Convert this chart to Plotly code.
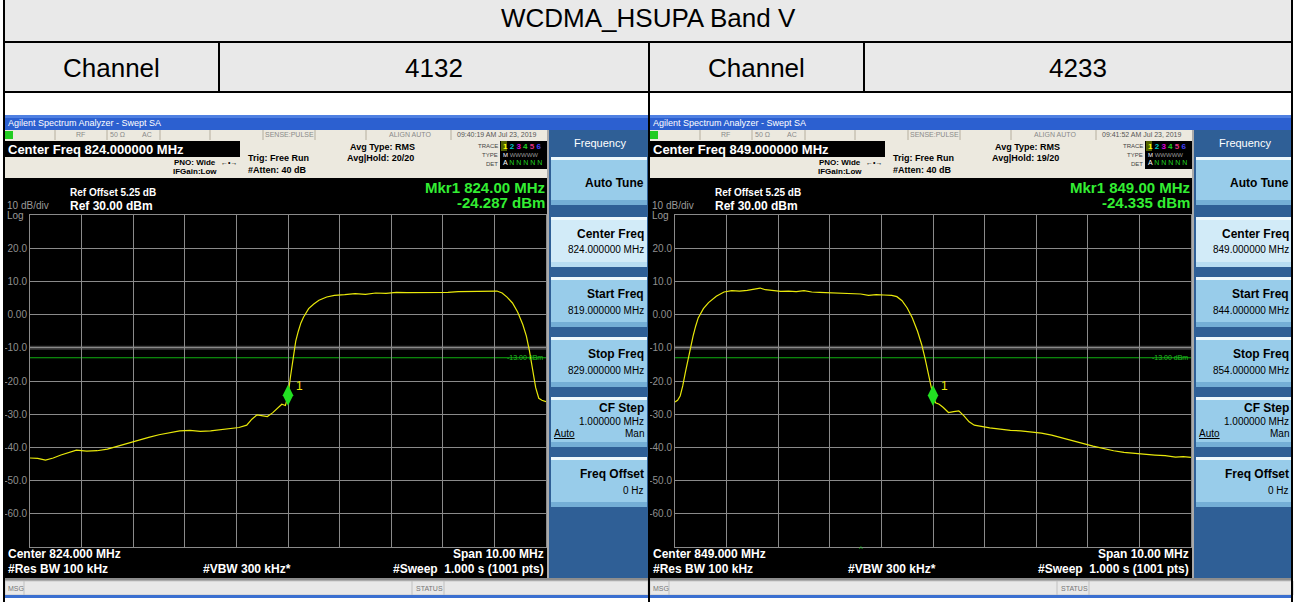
import plotly.graph_objects as go

W, H = 1297, 602
FONT = "Liberation Sans"

TITLE = "WCDMA_HSUPA Band V"
CHANNEL_LABEL = "Channel"
CHANNELS = ["4132", "4233"]
CENTER_MHZ = [824.0, 849.0]
SPAN_MHZ = 10.0
MKR_FREQ = [824.00, 849.00]
MKR_DBM = [-24.287, -24.335]
TIMESTAMPS = ["09:40:19 AM Jul 23, 2019", "09:41:52 AM Jul 23, 2019"]
AVG_HOLD = ["20/20", "19/20"]
LIMIT_DBM = -13.0
REF_LEVEL = 30.0
BOTTOM_LEVEL = -70.0
Y_TICKS = [20, 10, 0, -10, -20, -30, -40, -50, -60]
Y_TICK_LABELS = ["20.0", "10.0", "0.00", "-10.0", "-20.0", "-30.0", "-40.0", "-50.0", "-60.0"]

freq_L = [819.00, 819.15, 819.30, 819.45, 819.60, 819.75, 819.90, 820.10, 820.30, 820.50,
          820.70, 820.90, 821.10, 821.30, 821.50, 821.70, 821.90, 822.10, 822.30, 822.50,
          822.70, 822.90, 823.05, 823.20, 823.30, 823.40, 823.50, 823.60, 823.70, 823.80,
          823.88, 823.95, 824.00, 824.05, 824.10, 824.15, 824.20, 824.25, 824.30, 824.40,
          824.50, 824.60, 824.75, 824.90, 825.10, 825.30, 825.50, 825.70, 825.90, 826.10,
          826.30, 826.50, 826.70, 826.90, 827.10, 827.30, 827.50, 827.70, 827.90, 828.05,
          828.15, 828.25, 828.35, 828.45, 828.55, 828.62, 828.68, 828.74, 828.80, 828.86,
          828.92, 829.00]
dbm_L = [-43.2, -43.3, -43.8, -43.2, -42.3, -41.5, -40.8, -41.1, -41.0, -40.5,
         -39.6, -38.6, -37.8, -37.0, -36.2, -35.5, -35.0, -34.9, -35.2, -35.0,
         -34.6, -34.2, -34.0, -33.3, -31.5, -30.2, -30.4, -30.7, -29.6, -28.2,
         -27.0, -27.4, -24.3, -18.5, -12.5, -8.0, -5.0, -2.5, -0.8, 1.8,
         3.2, 4.3, 5.3, 5.8, 6.0, 6.3, 6.1, 6.5, 6.4, 6.7,
         6.6, 6.6, 6.7, 6.8, 6.7, 6.9, 7.0, 7.1, 7.2, 7.1,
         6.5, 5.2, 3.5, 0.8, -3.0, -6.5, -11.0, -17.0, -22.0, -25.2,
         -25.8, -26.2]

freq_R = [844.00, 844.05, 844.10, 844.15, 844.20, 844.25, 844.30, 844.35, 844.40, 844.45,
          844.55, 844.65, 844.80, 844.95, 845.10, 845.25, 845.40, 845.55, 845.65, 845.75,
          845.90, 846.05, 846.20, 846.35, 846.50, 846.65, 846.80, 847.00, 847.20, 847.40,
          847.60, 847.75, 847.90, 848.05, 848.20, 848.30, 848.40, 848.50, 848.60, 848.70,
          848.78, 848.85, 848.92, 849.00, 849.05, 849.12, 849.20, 849.30, 849.40, 849.50,
          849.60, 849.70, 849.80, 849.95, 850.10, 850.30, 850.50, 850.70, 850.90, 851.10,
          851.30, 851.50, 851.70, 851.90, 852.10, 852.30, 852.50, 852.70, 852.90, 853.10,
          853.30, 853.50, 853.70, 853.85, 854.00]
dbm_R = [-26.3, -25.8, -24.5, -21.5, -17.5, -13.5, -9.5, -6.5, -3.5, -1.0,
         1.8, 3.6, 5.5, 6.8, 7.2, 7.1, 7.3, 7.6, 8.0, 7.5,
         7.2, 7.0, 7.1, 6.9, 7.2, 6.8, 6.7, 6.6, 6.5, 6.4,
         6.2, 5.8, 6.0, 5.9, 5.8, 5.4, 4.2, 2.0, -1.0, -5.0,
         -9.0, -13.5, -19.0, -24.3, -26.6, -27.0, -28.0, -29.5, -29.2, -29.0,
         -30.5, -32.3, -33.3, -33.8, -34.1, -34.5, -34.9, -35.0, -35.3, -35.7,
         -36.3, -37.2, -38.0, -38.8, -39.6, -40.4, -41.0, -41.5, -41.8, -42.2,
         -42.3, -42.5, -42.9, -42.8, -43.0]

TRACES = [(freq_L, dbm_L), (freq_R, dbm_R)]

shapes = []
ann = []


def X(px):
    return px / W


def Y(py):
    return 1 - py / H


def rect(x0, y0, x1, y1, fill, line=None, lw=0, layer="below"):
    shapes.append(dict(type="rect", xref="paper", yref="paper",
                       x0=X(x0), x1=X(x1), y0=Y(y1), y1=Y(y0),
                       fillcolor=fill, line=dict(color=line or fill, width=lw), layer=layer))


def seg(x0, y0, x1, y1, color, lw=1, layer="above"):
    shapes.append(dict(type="line", xref="paper", yref="paper",
                       x0=X(x0), x1=X(x1), y0=Y(y0), y1=Y(y1),
                       line=dict(color=color, width=lw), layer=layer))


def txt(x, y, s, size, color="black", xa="left", bold=False, family=FONT, ya="middle"):
    ann.append(dict(xref="paper", yref="paper", x=X(x), y=Y(y),
                    text=("<b>%s</b>" % s if bold else s), showarrow=False,
                    xanchor=xa, yanchor=ya, borderpad=0,
                    font=dict(size=size, color=color, family=family)))


# ---------------- table ----------------
rect(4, 0, 1292, 42, "#E9E9E9")
rect(4, 42, 1292, 92, "#E9E9E9")
txt(648, 18, TITLE, 26, xa="center")
txt(111, 68, CHANNEL_LABEL, 26, xa="center")
txt(434, 68, CHANNELS[0], 26, xa="center")
txt(756, 68, CHANNEL_LABEL, 26, xa="center")
txt(1078, 68, CHANNELS[1], 26, xa="center")

GREEN = "#33EE33"
GRAY_T = "#9A9A9A"


def panel(i, X0):
    cf = CENTER_MHZ[i]
    R = X0 + 643
    # title bar
    rect(X0, 115, R, 130, "#2C60D0")
    rect(X0, 115, R, 118, "#4F80E2")
    txt(X0 + 2, 123, "Agilent Spectrum Analyzer - Swept SA", 9, "white")
    # status bar
    rect(X0, 130, X0 + 543, 140, "#ECE9DF")
    rect(X0, 131, X0 + 8, 139, "#22CC22")
    for sx in [50, 102, 155, 205, 258, 310, 361, 446]:
        seg(X0 + sx, 130, X0 + sx, 140, "#B5AE9E")
    txt(X0 + 75, 135, "RF", 7, "#8A8A8A", xa="center")
    txt(X0 + 112, 135, "50 Ω", 7, "#8A8A8A", xa="center")
    txt(X0 + 142, 135, "AC", 7, "#8A8A8A", xa="center")
    txt(X0 + 284, 135, "SENSE:PULSE", 7, "#8A8A8A", xa="center")
    txt(X0 + 405, 135, "ALIGN AUTO", 7, "#8A8A8A", xa="center")
    txt(X0 + 492, 135, TIMESTAMPS[i], 7, "#555555", xa="center")
    # info area
    rect(X0, 140, X0 + 543, 178, "#ECE9DF")
    rect(X0, 141, X0 + 235, 157, "#000000")
    txt(X0 + 2, 149, "Center Freq %.6f MHz" % cf, 13, "white", bold=True)
    txt(X0 + 212, 162, "PNO: Wide", 8, "black", xa="right", bold=True)
    txt(X0 + 224, 162, "←•→", 7, "black", xa="center")
    txt(X0 + 213, 171, "IFGain:Low", 8, "black", xa="right", bold=True)
    txt(X0 + 242, 158, "Trig: Free Run", 9, "black", bold=True)
    txt(X0 + 242, 170, "#Atten: 40 dB", 9, "black", bold=True)
    txt(X0 + 344, 147, "Avg Type: RMS", 9, "black", bold=True)
    txt(X0 + 341, 158, "Avg|Hold: %s" % AVG_HOLD[i], 9, "black", bold=True)
    # trace box
    txt(X0 + 494, 146, "TRACE", 6, "#444444", xa="right")
    txt(X0 + 494, 155, "TYPE", 6, "#444444", xa="right")
    txt(X0 + 494, 164, "DET", 6, "#444444", xa="right")
    rect(X0 + 495, 141, X0 + 543, 169, "#000000")
    rect(X0 + 496, 141, X0 + 502, 151, "#4F5F00")
    txt(X0 + 497, 146,
        '<span style="color:#FFFF00">1</span> <span style="color:#00C8C8">2</span> '
        '<span style="color:#E000E0">3</span> <span style="color:#20D020">4</span> '
        '<span style="color:#E03080">5</span> <span style="color:#4040FF">6</span>',
        8, "white", bold=True)
    txt(X0 + 497, 155, 'M <span style="color:#9A9A9A">WWWWW</span>', 6, "white")
    txt(X0 + 497, 163, 'A <span style="color:#20D020">N N N N N</span>', 7, "white")
    # display
    rect(X0, 178, X0 + 543, 578, "#000000")
    txt(X0 + 64, 193, "Ref Offset 5.25 dB", 10, "white", bold=True)
    txt(X0 + 64, 206, "Ref %.2f dBm" % REF_LEVEL, 12, "white", bold=True)
    txt(X0 + 1, 205, "10 dB/div", 10, GRAY_T)
    txt(X0 + 1, 215, "Log", 10, GRAY_T)
    txt(X0 + 541, 187, "Mkr1 %.2f MHz" % MKR_FREQ[i], 15, GREEN, xa="right", bold=True)
    txt(X0 + 541, 202, "%.3f dBm" % MKR_DBM[i], 15, GREEN, xa="right", bold=True)
    txt(X0 + 2, 554, "Center %.3f MHz" % cf, 12, "white", bold=True)
    txt(X0 + 2, 569, "#Res BW 100 kHz", 12, "white", bold=True)
    txt(X0 + 197, 569, "#VBW 300 kHz*", 12, "white", bold=True)
    txt(X0 + 540, 554, "Span %.2f MHz" % SPAN_MHZ, 12, "white", xa="right", bold=True)
    txt(X0 + 540, 569, "#Sweep&nbsp;&nbsp;1.000 s (1001 pts)", 12, "white", xa="right", bold=True)
    # softkey panel
    rect(X0 + 543, 130, R, 578, "#2F5F96")
    seg(X0 + 543, 130, X0 + 543, 578, "#AAAAAA", 2)
    txt(X0 + 595, 143, "Frequency", 11, "white", xa="center")
    buttons = [(157, 205, "Auto Tune", None, False),
               (217, 267, "Center Freq", "%.6f MHz" % cf, True),
               (277, 327, "Start Freq", "%.6f MHz" % (cf - SPAN_MHZ / 2), False),
               (337, 387, "Stop Freq", "%.6f MHz" % (cf + SPAN_MHZ / 2), False),
               (397, 447, "CF Step", "1.000000 MHz", False),
               (457, 507, "Freq Offset", "0 Hz", False)]
    for (b0, b1, title, val, sel) in buttons:
        rect(X0 + 546, b0, R - 1, b1, "#D2EBF8" if sel else "#98CCEA")
        rect(X0 + 546, b0, R - 1, b0 + 3, "#EEF8FD")
        rect(X0 + 546, b1 - 5, R - 1, b1, "#B8DDF2" if sel else "#74AED6")
        if title == "Auto Tune":
            txt(R - 3, 183, title, 12, "black", xa="right", bold=True)
        elif title == "CF Step":
            txt(R - 3, 408, title, 12, "black", xa="right", bold=True)
            txt(R - 3, 421, val, 10, "black", xa="right")
            txt(X0 + 548, 434, "<u>Auto</u>", 10, "black")
            txt(R - 3, 434, "Man", 10, "black", xa="right")
        else:
            txt(R - 3, b0 + 17, title, 12, "black", xa="right", bold=True)
            txt(R - 3, b0 + 33, val, 10, "black", xa="right")
    # bottom bars
    rect(X0, 578, R, 581, "#8E8E8E")
    rect(X0, 581, R, 595, "#E8E8E8", "#C8C8C8", 1)
    seg(X0 + 19, 581, X0 + 19, 595, "#C0C0C0")
    seg(X0 + 407, 581, X0 + 407, 595, "#C0C0C0")
    seg(X0 + 439, 581, X0 + 439, 595, "#C0C0C0")
    txt(X0 + 2, 588, "MSG", 7, "#777777")
    txt(X0 + 410, 588, "STATUS", 7, "#777777")
    rect(X0, 595, R, 598, "#3A6FD0")


panel(0, 5)
panel(1, 650)

# ---------------- traces ----------------
fig = go.Figure()
GX = [(30, 546), (675, 1191)]
GY = (215, 547)
for i, (fx, fy) in enumerate(TRACES):
    sfx = "" if i == 0 else str(i + 1)
    fig.add_trace(go.Scatter(x=fx, y=fy, mode="lines", line=dict(color="#E8E80A", width=1.2),
                             xaxis="x" + sfx, yaxis="y" + sfx, hoverinfo="skip"))
    fig.add_trace(go.Scatter(x=[MKR_FREQ[i]], y=[MKR_DBM[i]], mode="markers",
                             marker=dict(symbol="diamond-tall", size=15, color="#22E022",
                                         line=dict(width=0)),
                             xaxis="x" + sfx, yaxis="y" + sfx, hoverinfo="skip"))
    cf = CENTER_MHZ[i]
    ax = dict(domain=[X(GX[i][0]), X(GX[i][1])], range=[cf - SPAN_MHZ / 2, cf + SPAN_MHZ / 2],
              tickvals=[cf - SPAN_MHZ / 2 + k for k in range(11)], showticklabels=False,
              showgrid=True, gridcolor="#8A8A8A", gridwidth=1, zeroline=False,
              showline=True, linecolor="#8A8A8A", linewidth=1, mirror=True, ticks="",
              anchor="y" + sfx, fixedrange=True)
    ay = dict(domain=[Y(GY[1]), Y(GY[0])], range=[BOTTOM_LEVEL, REF_LEVEL],
              tickvals=Y_TICKS, ticktext=Y_TICK_LABELS, showgrid=True, gridcolor="#8A8A8A",
              gridwidth=1, zeroline=False, showline=True, linecolor="#8A8A8A", linewidth=1,
              mirror=True, ticks="", tickfont=dict(size=10, color="#8F8F8F", family=FONT),
              anchor="x" + sfx, fixedrange=True)
    fig.layout["xaxis" + sfx] = ax
    fig.layout["yaxis" + sfx] = ay
    xr = "x" + sfx
    yr = "y" + sfx
    # -10 dB dim display band (below grid) and -13 dBm limit line
    shapes.append(dict(type="line", xref=xr, yref=yr, x0=cf - SPAN_MHZ / 2, x1=cf + SPAN_MHZ / 2,
                       y0=-10, y1=-10, line=dict(color="#3E3E3E", width=4), layer="below"))
    shapes.append(dict(type="line", xref=xr, yref=yr, x0=cf - SPAN_MHZ / 2, x1=cf + SPAN_MHZ / 2,
                       y0=LIMIT_DBM, y1=LIMIT_DBM, line=dict(color="#10B010", width=1),
                       layer="below"))
    ann.append(dict(xref=xr, yref=yr, x=cf + SPAN_MHZ / 2 - 0.02, y=LIMIT_DBM,
                    text="%.2f dBm" % LIMIT_DBM, showarrow=False, xanchor="right",
                    yanchor="middle", font=dict(size=7, color="#20C020", family=FONT)))
    ann.append(dict(xref=xr, yref=yr, x=MKR_FREQ[i], y=MKR_DBM[i],
                    text="1", showarrow=False, xanchor="left", yanchor="middle",
                    xshift=6, yshift=9, font=dict(size=12, color="#E8E80A", family=FONT)))

txt(861, 548, "^", 8, "#20C020", xa="center")

# table lines on top
seg(4, 0, 4, 602, "black", 2)
seg(1292, 0, 1292, 602, "black", 2)
seg(4, 42, 1292, 42, "black", 2)
seg(4, 92, 1292, 92, "black", 2)
seg(219, 42, 219, 92, "black", 2)
seg(649, 42, 649, 602, "black", 2)
seg(864, 42, 864, 92, "black", 2)

fig.update_layout(width=W, height=H, margin=dict(l=0, r=0, t=0, b=0),
                  paper_bgcolor="white", plot_bgcolor="black", showlegend=False,
                  shapes=shapes, annotations=ann, font=dict(family=FONT))

fig.write_html("out.html", config={"displayModeBar": False},
               post_script="document.body.style.margin='0';")
